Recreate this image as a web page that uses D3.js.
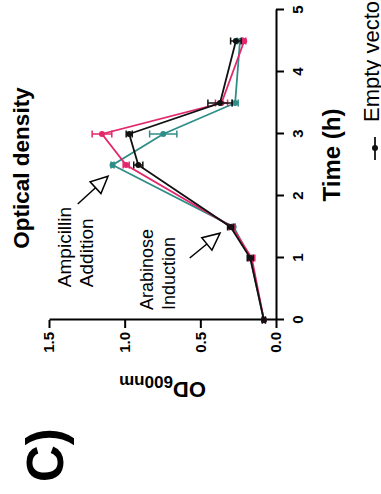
<!DOCTYPE html>
<html>
<head>
<meta charset="utf-8">
<script src="https://cdn.jsdelivr.net/npm/d3@7"></script>
<style>
  html, body { margin: 0; padding: 0; background: #fff; }
  svg { display: block; }
  text { font-family: "Liberation Sans", Arial, sans-serif; }
</style>
</head>
<body>
<div id="chart"></div>
<script>
// data (time in h, OD600nm)
const times = [0, 1, 1.5, 2.5, 3, 3.5, 4.5];
const emptyVector = [0.08, 0.17, 0.30, 0.91, 0.97, 0.37, 0.265];
const emptyVectorErr = [0.01, 0.02, 0.02, 0.03, 0.02, 0.08, 0.035];
const pinkValues = [0.08, 0.16, 0.29, 0.99, 1.15, 0.36, 0.21];
const pinkErr = [0.01, 0.02, 0.02, 0.02, 0.065, 0.04, 0.01];
const tealValues = [0.08, 0.17, 0.28, 1.08, 0.745, 0.27, 0.238];
const tealErr = [0.01, 0.01, 0.01, 0.01, 0.09, 0.02, 0.02];
const timeTicks = [0, 1, 2, 3, 4, 5];
const odTicks = [0, 0.5, 1.0, 1.5];

const series = [
  { color: "#2f8d87", values: tealValues, err: tealErr },
  { color: "#e2286c", values: pinkValues, err: pinkErr },
  { color: "#111111", values: emptyVector, err: emptyVectorErr }
];

// the figure is drawn in its own frame and then turned a quarter turn
const W = 494, H = 381;

const svg = d3.select("#chart")
  .append("svg")
  .attr("width", H)
  .attr("height", W);

const g = svg.append("g")
  .attr("transform", `translate(0,${W}) rotate(-90)`);

const x = d3.scaleLinear().domain([0, 5]).range([174, 484]);
const y = d3.scaleLinear().domain([0, 1.5]).range([276, 49]);

// Axes
const xAxis = g.append("g")
  .attr("transform", `translate(0,${y(0)})`)
  .call(d3.axisBottom(x).tickValues(timeTicks).tickFormat(d3.format("d"))
    .tickSize(8).tickSizeOuter(0).tickPadding(8));

const yAxis = g.append("g")
  .attr("transform", `translate(${x(0)},0)`)
  .call(d3.axisLeft(y).tickValues(odTicks).tickFormat(d3.format(".1f"))
    .tickSize(8).tickSizeOuter(0).tickPadding(4));

[xAxis, yAxis].forEach(a => {
  a.selectAll("path, line").attr("stroke", "#000").attr("stroke-width", 2);
  a.selectAll("text")
    .attr("fill", "#000")
    .style("font-size", "15px")
    .style("font-weight", "bold");
});

// Lines, error bars, points
const line = d3.line()
  .x((d, i) => x(times[i]))
  .y(d => y(d));

series.forEach(s => {
  const sg = g.append("g");

  sg.append("path")
    .datum(s.values)
    .attr("fill", "none")
    .attr("stroke", s.color)
    .attr("stroke-width", 1.8)
    .attr("d", line);

  s.values.forEach((v, i) => {
    const cx = x(times[i]);
    const lo = y(v - s.err[i]), hi = y(v + s.err[i]);
    sg.append("line")
      .attr("x1", cx).attr("x2", cx).attr("y1", lo).attr("y2", hi)
      .attr("stroke", s.color).attr("stroke-width", 1.5);
    [lo, hi].forEach(yy => {
      sg.append("line")
        .attr("x1", cx - 3.5).attr("x2", cx + 3.5).attr("y1", yy).attr("y2", yy)
        .attr("stroke", s.color).attr("stroke-width", 1.5);
    });
  });

  sg.selectAll("circle")
    .data(s.values)
    .enter()
    .append("circle")
    .attr("cx", (d, i) => x(times[i]))
    .attr("cy", d => y(d))
    .attr("r", 3)
    .attr("fill", s.color);
});

// Annotations
function arrow(t0, v0, t1, v1) {
  const x0 = x(t0), y0 = y(v0), x1 = x(t1), y1 = y(v1);
  const len = Math.hypot(x1 - x0, y1 - y0);
  const ux = (x1 - x0) / len, uy = (y1 - y0) / len;
  const bx = x1 - ux * 17, by = y1 - uy * 17;
  const nx = -uy * 8, ny = ux * 8;
  g.append("line")
    .attr("x1", x0).attr("y1", y0).attr("x2", bx).attr("y2", by)
    .attr("stroke", "#000").attr("stroke-width", 1.5);
  g.append("path")
    .attr("d", `M${x1},${y1}L${bx + nx},${by + ny}L${bx - nx},${by - ny}Z`)
    .attr("fill", "#fff").attr("stroke", "#000").attr("stroke-width", 1.5)
    .attr("stroke-linejoin", "miter");
}

arrow(1.87, 1.31, 2.32, 1.11);
arrow(1.0, 0.57, 1.40, 0.37);

function note(lines, t, v, size) {
  const tx = g.append("text")
    .attr("x", x(t)).attr("y", y(v))
    .style("font-size", size + "px")
    .attr("fill", "#000");
  lines.forEach((l, i) => {
    tx.append("tspan").attr("x", x(t)).attr("dy", i === 0 ? 0 : 22).text(l);
  });
}

note(["Ampicillin", "Addition"], 0.53, 1.355, 19);
note(["Arabinose", "Induction"], 0.16, 0.81, 18);

// Titles and labels
g.append("text")
  .attr("x", 326).attr("y", 29)
  .attr("text-anchor", "middle")
  .style("font-size", "22.5px").style("font-weight", "bold")
  .text("Optical density");

g.append("text")
  .attr("x", 339).attr("y", 340)
  .attr("text-anchor", "middle")
  .style("font-size", "24px").style("font-weight", "bold")
  .text("Time (h)");

const odLabel = g.append("text")
  .attr("transform", `translate(112,${y(0.75)}) rotate(-90)`)
  .attr("text-anchor", "middle")
  .style("font-weight", "bold");
odLabel.append("tspan").style("font-size", "22px").text("OD");
odLabel.append("tspan").style("font-size", "17px").attr("dy", 6).text("600nm");

g.append("text")
  .attr("x", 12).attr("y", 63)
  .style("font-size", "51px").style("font-weight", "bold")
  .text("C)");

// Legend (only the first row fits in the frame)
g.append("line")
  .attr("x1", 334).attr("x2", 357).attr("y1", 375).attr("y2", 375)
  .attr("stroke", "#111").attr("stroke-width", 1.8);
g.append("circle")
  .attr("cx", 346).attr("cy", 375).attr("r", 3)
  .attr("fill", "#111");
g.append("text")
  .attr("x", 372).attr("y", 379)
  .style("font-size", "22px")
  .text("Empty vector");
</script>
</body>
</html>
